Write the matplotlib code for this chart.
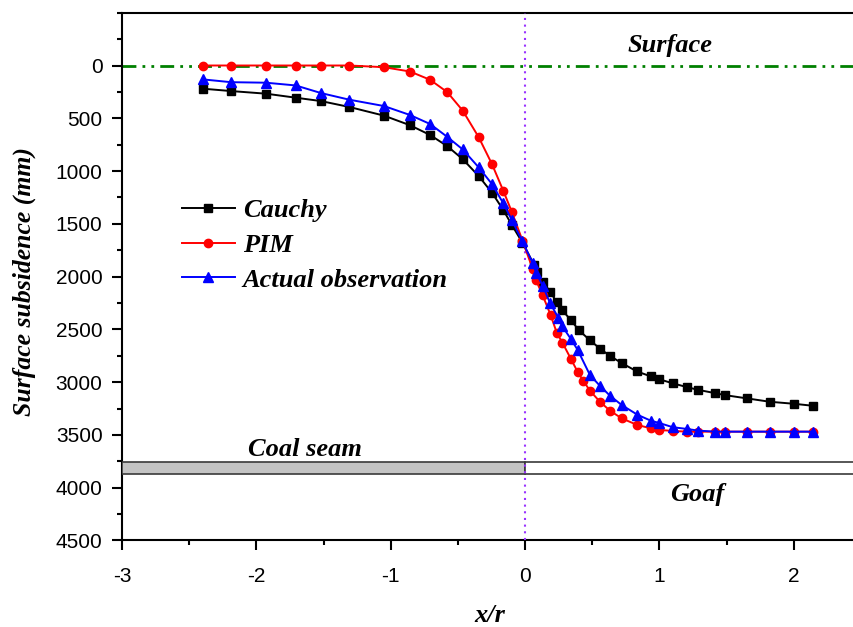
import matplotlib
matplotlib.use('Agg')
import matplotlib.pyplot as plt
from matplotlib.patches import Rectangle
from matplotlib.ticker import MultipleLocator

plt.rcParams['axes.unicode_minus'] = False

# data (x/r, subsidence in mm)
x_left = [-2.395, -2.189, -1.928, -1.707, -1.519, -1.308, -1.050, -0.856, -0.707,
          -0.579, -0.464, -0.345, -0.246, -0.162, -0.099, -0.019]

cauchy_x = x_left + [0.067, 0.089, 0.134, 0.186, 0.238, 0.276, 0.343, 0.402, 0.484,
                     0.558, 0.633, 0.722, 0.834, 0.938, 0.998, 1.102, 1.206, 1.288,
                     1.415, 1.489, 1.653, 1.824, 2.003, 2.144]
cauchy_y = [220, 242, 267, 305, 337, 393, 475, 566, 658, 764, 887, 1047, 1205, 1368, 1509, 1679,
            1887, 1953, 2047, 2142, 2245, 2316, 2415, 2509, 2604, 2682, 2752, 2821, 2899,
            2946, 2972, 3012, 3047, 3073, 3104, 3123, 3154, 3186, 3205, 3224]

pim_x = x_left + [0.057, 0.082, 0.132, 0.191, 0.236, 0.278, 0.343, 0.392, 0.434, 0.484,
                  0.558, 0.633, 0.720, 0.836, 0.936, 1.000, 1.100, 1.204, 1.288, 1.415,
                  1.489, 1.655, 1.824, 2.003, 2.147]
pim_y = [0, 0, 0, 0, 0, 0, 16, 57, 135, 252, 427, 679, 934, 1186, 1384, 1658,
         1927, 2035, 2179, 2365, 2531, 2625, 2783, 2903, 2988, 3082, 3186, 3271, 3343,
         3406, 3437, 3453, 3462, 3469, 3469, 3469, 3469, 3469, 3469, 3469, 3469]

obs_x = x_left + [0.058, 0.082, 0.134, 0.186, 0.248, 0.278, 0.343, 0.392, 0.484, 0.558,
                  0.633, 0.720, 0.836, 0.936, 1.000, 1.100, 1.204, 1.288, 1.415, 1.489,
                  1.655, 1.824, 2.003, 2.147]
obs_y = [132, 158, 163, 189, 261, 324, 384, 469, 554, 676, 795, 965, 1123, 1305, 1462, 1667,
         1873, 1962, 2092, 2250, 2390, 2472, 2594, 2695, 2934, 3035, 3129, 3217, 3308,
         3365, 3387, 3427, 3443, 3459, 3469, 3469, 3469, 3469, 3469, 3469]

seam_top, seam_bottom = 3760, 3870

serif_bi = dict(family='Liberation Serif', weight='bold', style='italic')

fig = plt.figure(figsize=(8.54, 6.27), dpi=100)
ax = fig.add_axes([0.1429, 0.1380, 0.8651, 0.8417])

# surface line and x=0 marker
ax.axhline(0, color='#008000', lw=2, linestyle=(0, (5, 2.2, 1, 2.2, 1, 2.2)), zorder=2)
ax.axvline(0, color='#9933ff', lw=1.5, linestyle=(0, (1, 2.2)), zorder=5)

# coal seam / goaf blocks
ax.add_patch(Rectangle((-3, seam_top), 3, seam_bottom - seam_top,
                       facecolor='#c4c4c4', edgecolor='#3a3a3a', lw=1.2, zorder=3))
ax.add_patch(Rectangle((0, seam_top), 3, seam_bottom - seam_top,
                       facecolor='white', edgecolor='#3a3a3a', lw=1.2, zorder=3))

ax.plot(cauchy_x, cauchy_y, color='black', marker='s', ms=5.5, lw=1.4, label='Cauchy', zorder=6)
ax.plot(pim_x, pim_y, color='red', marker='o', ms=6, lw=1.4, label='PIM', zorder=7)
ax.plot(obs_x, obs_y, color='blue', marker='^', ms=6.5, lw=1.4, label='Actual observation', zorder=8)

ax.text(1.08, -190, 'Surface', fontsize=19, ha='center', va='center', **serif_bi)
ax.text(-1.64, 3640, 'Coal seam', fontsize=19, ha='center', va='center', **serif_bi)
ax.text(1.28, 4066, 'Goaf', fontsize=19, ha='center', va='center', **serif_bi)

ax.set_xlim(-3, 2.5)
ax.set_ylim(4500, -500)
ax.set_xticks([-3, -2, -1, 0, 1, 2])
ax.set_yticks([0, 500, 1000, 1500, 2000, 2500, 3000, 3500, 4000, 4500])
ax.xaxis.set_minor_locator(MultipleLocator(0.5))
ax.yaxis.set_minor_locator(MultipleLocator(250))
ax.tick_params(which='major', direction='out', length=7, width=1.5, labelsize=15)
ax.tick_params(which='minor', direction='out', length=3.6, width=1.5)
ax.tick_params(axis='x', pad=12)
ax.tick_params(axis='y', pad=7)
for lab in ax.get_xticklabels() + ax.get_yticklabels():
    lab.set_family('Liberation Sans')
for sp in ax.spines.values():
    sp.set_linewidth(1.5)

ax.set_xlabel('x/r', fontsize=19, **serif_bi)
ax.set_ylabel('Surface subsidence (mm)', fontsize=18.5, **serif_bi)
ax.xaxis.set_label_coords(0.498, -0.12)
ax.yaxis.set_label_coords(-0.117, 0.49)

ax.legend(loc='upper left', bbox_to_anchor=(182 / 854, 1 - 199 / 627),
          bbox_transform=fig.transFigure, frameon=False, borderpad=0, borderaxespad=0,
          handlelength=2.0, handletextpad=0.3, labelspacing=0.42,
          prop=dict(family='Liberation Serif', weight='bold', style='italic', size=19))

fig.savefig('out.png', dpi=100)
